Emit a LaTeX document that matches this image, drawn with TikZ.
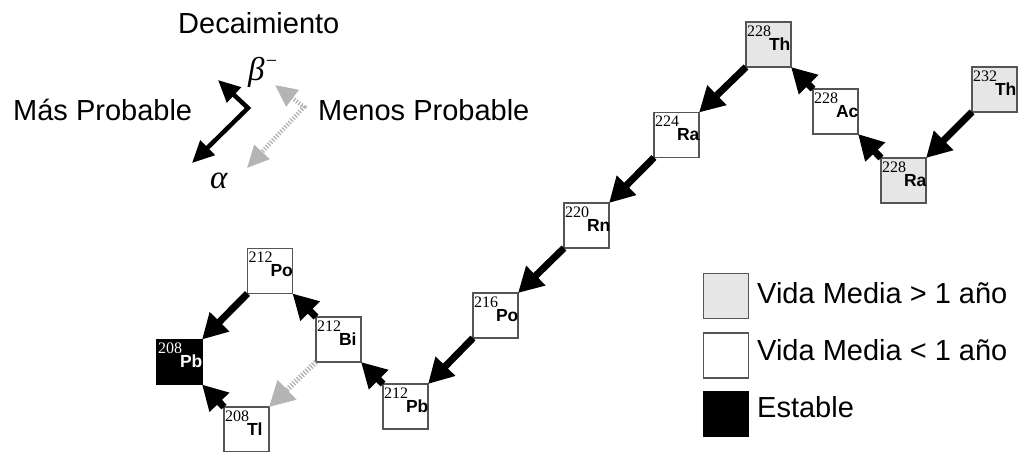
\documentclass[tikz,border=0pt]{standalone}
\usepackage{fontspec}
\setmainfont{Liberation Sans}
\newfontfamily\massserif{Liberation Serif}
\usetikzlibrary{arrows.meta}

\definecolor{boxedge}{RGB}{85,85,85}
\definecolor{longfill}{RGB}{230,230,230}
\definecolor{minorgrey}{RGB}{180,180,180}

\newcommand\massfont{\massserif\fontsize{16}{16}\selectfont}
\newcommand\symfont{\bfseries\fontsize{17.5}{17.5}\selectfont}
\newcommand\bigtext{\fontsize{29}{32}\selectfont}
\newcommand\greekfont{\massserif\itshape\fontsize{33}{33}\selectfont}

\tikzset{
  nbox/.style={draw=boxedge, line width=1.4pt, minimum width=45pt, minimum height=45pt,
    inner sep=0pt, outer sep=0pt, fill=white},
  longlived/.style={fill=longfill},
  stable/.style={fill=black, draw=black},
  nlabel/.style={anchor=base west, inner sep=0pt, outer sep=0pt},
  decay/.style={line width=7pt, -{Triangle[length=25pt,width=26pt]}},
  minor/.style={draw=minorgrey, line width=5.5pt, dash pattern=on 1.3pt off 1.7pt,
    -{Triangle[length=25pt,width=26pt,color=minorgrey]}},
  keyarrow/.style={line width=4.5pt, {Triangle[length=22pt,width=20pt]}-{Triangle[length=22pt,width=20pt]}},
  keyminor/.style={draw=minorgrey, line width=4.5pt, dash pattern=on 1.3pt off 1.7pt,
    {Triangle[length=22pt,width=20pt,color=minorgrey]}-{Triangle[length=22pt,width=20pt,color=minorgrey]}},
  keytext/.style={anchor=base west, inner sep=0pt, font=\bigtext},
}

% nuclide box: name, centre, mass number, symbol, box style, text colour
\newcommand\nuc[6]{%
  \node[nbox,#5] (#1) at (#2) {};
  \node[nlabel, text=#6] (#1-lab) at ([xshift=1pt,yshift=-28pt]#1.north west)
    {\raisebox{14pt}{\massfont #3}\kern-2pt{\symfont #4}};
}

\begin{document}
\begin{tikzpicture}[x=1pt,y=-1pt]
\useasboundingbox (0,0) rectangle (1024,451);

% key to the decay arrows
\node[keytext] (title) at (178,33) {Decaimiento};
\node[keytext] (more) at (13,120) {Más Probable};
\node[keytext] (less) at (318,120) {Menos Probable};
\node[anchor=base west, inner sep=0pt, font=\greekfont] (beta) at (248,80)
  {β\raisebox{13pt}{\fontsize{20}{20}\selectfont −}};
\node[anchor=base west, inner sep=0pt, font=\greekfont] (alpha) at (210,188) {α};
\coordinate (kb) at (218,80);
\coordinate (kc) at (248,108);
\coordinate (ka) at (192,163);
\draw[keyarrow] (kb) -- (kc) -- (ka);
\coordinate (gb) at (275,85);
\coordinate (gc) at (304,107);
\coordinate (ga) at (247,168);
\draw[keyminor] (gb) -- (gc) -- (ga);

% thorium series
\nuc{th232}{994.5,89.5}{232}{Th}{longlived}{black}
\nuc{ra228}{903.5,180.5}{228}{Ra}{longlived}{black}
\nuc{ac228}{835.5,111.5}{228}{Ac}{}{black}
\nuc{th228}{768.5,44.5}{228}{Th}{longlived}{black}
\nuc{ra224}{676.5,135}{224}{Ra}{}{black}
\nuc{rn220}{586.5,225.5}{220}{Rn}{}{black}
\nuc{po216}{495.5,315.5}{216}{Po}{}{black}
\nuc{pb212}{405.5,406.5}{212}{Pb}{}{black}
\nuc{bi212}{338.5,339.5}{212}{Bi}{}{black}
\nuc{po212}{270,271}{212}{Po}{}{black}
\nuc{tl208}{246.5,429.5}{208}{Tl}{}{black}
\nuc{pb208}{179.5,362}{208}{Pb}{stable}{white}

% alpha decays
\draw[decay] (th232.south west) -- (ra228.north east);
\draw[decay] (th228.south west) -- (ra224.north east);
\draw[decay] (ra224.south west) -- (rn220.north east);
\draw[decay] (rn220.south west) -- (po216.north east);
\draw[decay] (po216.south west) -- (pb212.north east);
\draw[decay] (po212.south west) -- (pb208.north east);
\draw[minor] (bi212.south west) -- (tl208.north east);
% beta decays
\draw[decay] (ra228.north west) -- (ac228.south east);
\draw[decay] (ac228.north west) -- (th228.south east);
\draw[decay] (pb212.north west) -- (bi212.south east);
\draw[decay] (bi212.north west) -- (po212.south east);
\draw[decay] (tl208.north west) -- (pb208.south east);

% half-life legend
\node[nbox,longlived] (keylong) at (726,296) {};
\node[nbox] (keyshort) at (726,355.5) {};
\node[nbox,stable] (keystable) at (726,414) {};
\node[keytext] (keylongtxt) at (757,303) {Vida Media > 1 año};
\node[keytext] (keyshorttxt) at (757,360) {Vida Media < 1 año};
\node[keytext] (keystabletxt) at (757,417) {Estable};
\end{tikzpicture}
\end{document}
